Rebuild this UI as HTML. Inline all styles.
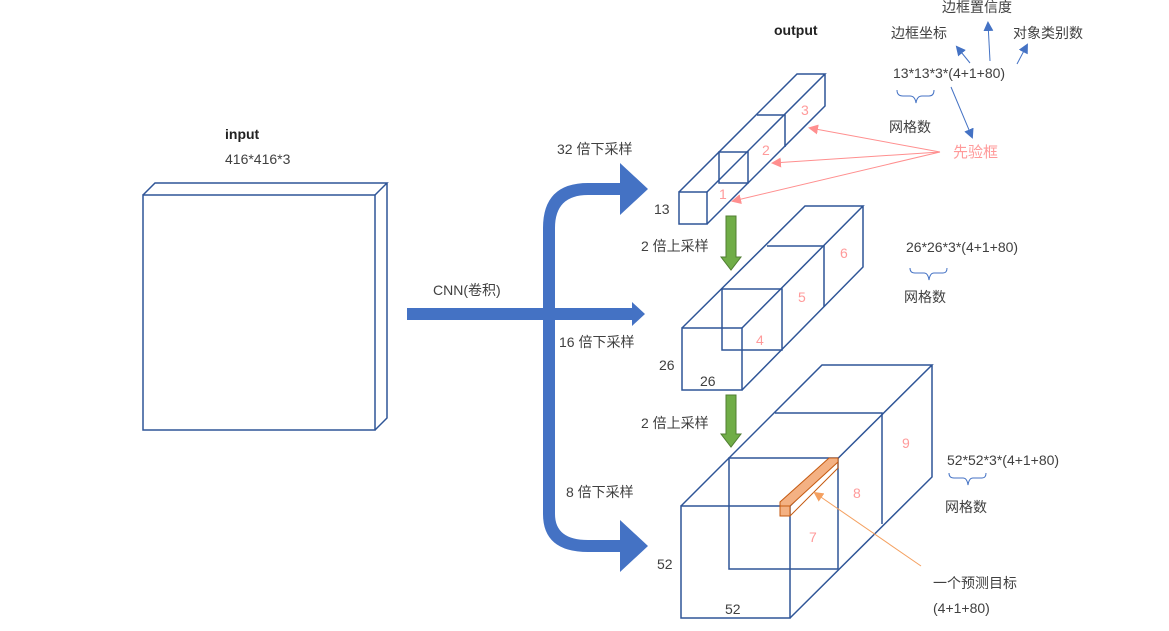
<!DOCTYPE html>
<html><head><meta charset="utf-8"><style>
html,body{margin:0;padding:0;background:#fff;}
svg{display:block;}
text{font-family:"Liberation Sans","Noto Sans CJK SC",sans-serif;font-size:14px;fill:#404040;}
.p{fill:#ff9a9a;}
.b{font-weight:bold;fill:#222;}
</style></head><body>
<svg width="1169" height="631" viewBox="0 0 1169 631" xmlns="http://www.w3.org/2000/svg">
<defs>
<marker id="ab" markerWidth="10" markerHeight="10" refX="8" refY="5" orient="auto" markerUnits="userSpaceOnUse"><path d="M0,0 L10,5 L0,10 z" fill="#4472c4"/></marker>
<marker id="ap" markerWidth="10" markerHeight="10" refX="8" refY="5" orient="auto" markerUnits="userSpaceOnUse"><path d="M0,0 L10,5 L0,10 z" fill="#ff8f8f"/></marker>
<marker id="ao" markerWidth="10" markerHeight="10" refX="8" refY="5" orient="auto" markerUnits="userSpaceOnUse"><path d="M0,0 L10,5 L0,10 z" fill="#f4a060"/></marker>
</defs>
<g fill="none" stroke="#2f5597" stroke-width="1.5">
<!-- input -->
<rect x="143" y="195" width="232" height="235"/>
<path d="M143,195 L155,183 L387,183 L375,195 M387,183 L387,418 L375,430"/>
<!-- 13 cuboid -->
<rect x="679" y="192" width="28" height="32"/>
<path d="M679,192 L797,74 L825,74 L707,192 M825,74 L825,106 L707,224"/>
<path d="M719,152 L748,152 L748,183 L719,183 Z"/>
<path d="M757,115 L785,115 L785,147"/>
<!-- 26 cuboid -->
<rect x="682" y="328" width="60" height="62"/>
<path d="M682,328 L805,206 L863,206 L742,328 M863,206 L863,267 L742,390"/>
<rect x="722" y="289" width="60" height="61"/>
<path d="M767,246 L824,246 L824,307"/>
<!-- 52 cuboid -->
<rect x="681" y="506" width="109" height="112"/>
<path d="M681,506 L822,365 L932,365 L790,506 M932,365 L932,477 L790,618"/>
<rect x="729" y="458" width="109" height="111"/>
<path d="M775,413 L882,413 L882,524"/>
</g>
<!-- orange bar -->
<path d="M780,506 L790,506 L838,462 L838,458 L829,458 L780,502 Z" fill="#f4b183" stroke="#c55a11" stroke-width="1"/>
<path d="M780,506 L780,516 L790,516 L790,506 Z" fill="#f4b183" stroke="#c55a11" stroke-width="1"/>
<path d="M790,516 L838,468 L838,458" fill="none" stroke="#c55a11" stroke-width="1"/>
<!-- blue arrows -->
<g fill="#4472c4">
<path d="M543,575 L543,228 Q543,183 588,183 L620,183 L620,163 L648,189 L620,215 L620,195 L588,195 Q555,195 555,228 L555,514 Q555,540 588,540 L620,540 L620,520 L648,546 L620,572 L620,552 L588,552 Q543,552 543,514 Z"/>
<path d="M407,308 L632,308 L632,302 L645,314 L632,326 L632,320 L407,320 Z"/>
</g>
<!-- green arrows -->
<g fill="#70ad47" stroke="#507e32" stroke-width="1">
<path d="M726,216 L736,216 L736,257 L741,257 L731,270 L721,257 L726,257 Z"/>
<path d="M726,395 L736,395 L736,434 L741,434 L731,447 L721,434 L726,434 Z"/>
</g>
<!-- annotation arrows -->
<g stroke="#4472c4" stroke-width="1" fill="none">
<line x1="970" y1="63" x2="957" y2="47" marker-end="url(#ab)"/>
<line x1="990" y1="61" x2="988" y2="23" marker-end="url(#ab)"/>
<line x1="1017" y1="64" x2="1027" y2="45" marker-end="url(#ab)"/>
<line x1="951" y1="87" x2="972" y2="137" marker-end="url(#ab)"/>
<path d="M897,90 Q897,96 903,96 L910,96 Q915,96 916,103 Q917,96 922,96 L929,96 Q934,96 934,90"/>
<path d="M910,268 Q910,273 915,273 L924,273 Q928,273 929,280 Q930,273 934,273 L943,273 Q947,273 947,268"/>
<path d="M949,473 Q949,478 954,478 L963,478 Q967,478 968,485 Q969,478 973,478 L982,478 Q986,478 986,473"/>
</g>
<g stroke="#ff8f8f" stroke-width="1" fill="none">
<line x1="940" y1="152" x2="810" y2="128" marker-end="url(#ap)"/>
<line x1="940" y1="152" x2="773" y2="163" marker-end="url(#ap)"/>
<line x1="940" y1="152" x2="733" y2="201" marker-end="url(#ap)"/>
</g>
<line x1="921" y1="566" x2="815" y2="493" stroke="#f4a060" stroke-width="1" marker-end="url(#ao)"/>
<!-- text -->
<text x="225" y="139" class="b">input</text>
<text x="225" y="164">416*416*3</text>
<text x="433" y="295">CNN(卷积)</text>
<text x="557" y="154">32 倍下采样</text>
<text x="559" y="347">16 倍下采样</text>
<text x="566" y="497">8 倍下采样</text>
<text x="641" y="251">2 倍上采样</text>
<text x="641" y="428">2 倍上采样</text>
<text x="774" y="35" class="b">output</text>
<text x="654" y="214">13</text>
<text x="659" y="370">26</text>
<text x="700" y="386">26</text>
<text x="657" y="569">52</text>
<text x="725" y="614">52</text>
<text x="942" y="12">边框置信度</text>
<text x="891" y="38">边框坐标</text>
<text x="1013" y="38">对象类别数</text>
<text x="893" y="78">13*13*3*(4+1+80)</text>
<text x="889" y="132">网格数</text>
<text x="953" y="157" class="p" style="font-size:15px">先验框</text>
<text x="906" y="252">26*26*3*(4+1+80)</text>
<text x="904" y="302">网格数</text>
<text x="947" y="465">52*52*3*(4+1+80)</text>
<text x="945" y="512">网格数</text>
<text x="933" y="588">一个预测目标</text>
<text x="933" y="613">(4+1+80)</text>
<text x="719" y="199" class="p">1</text>
<text x="762" y="155" class="p">2</text>
<text x="801" y="115" class="p">3</text>
<text x="756" y="345" class="p">4</text>
<text x="798" y="302" class="p">5</text>
<text x="840" y="258" class="p">6</text>
<text x="809" y="542" class="p">7</text>
<text x="853" y="498" class="p">8</text>
<text x="902" y="448" class="p">9</text>
</svg>
</body></html>
